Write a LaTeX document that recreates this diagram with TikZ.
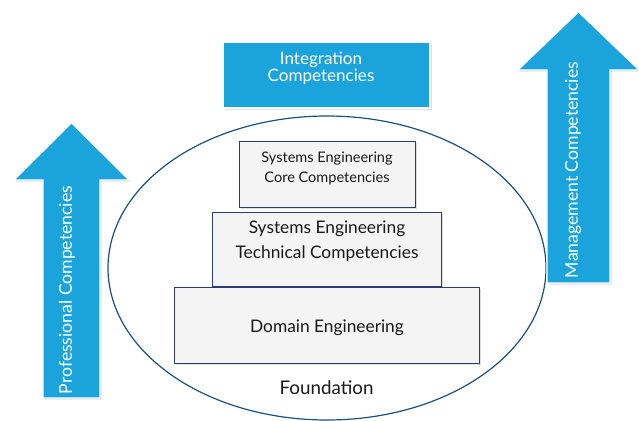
\documentclass[tikz,border=0pt]{standalone}
\usepackage{fontspec}
\setmainfont{Lato}
\usetikzlibrary{shadows}
\definecolor{skyblue}{RGB}{27,163,219}
\definecolor{navyline}{RGB}{46,58,120}
\definecolor{ringline}{RGB}{31,78,121}
\definecolor{tierfill}{RGB}{244,244,244}
\tikzset{
  softshadow/.style={drop shadow={opacity=0.25,shadow xshift=1.2pt,shadow yshift=-1.2pt}},
  tier/.style={draw=navyline,line width=0.6pt,fill=tierfill,softshadow},
  bluebox/.style={draw=white,line width=0.8pt,fill=skyblue,softshadow},
  tiertext/.style={text=black!90,align=center},
  arrowtext/.style={text=white,rotate=90,font=\fontsize{13.2}{15}\selectfont}
}
\begin{document}
\begin{tikzpicture}[x=0.75pt,y=-0.75pt]
\useasboundingbox (0,0) rectangle (639,421);
\draw[ringline,line width=0.9pt] (327,268) ellipse [x radius=219,y radius=152];

\path[bluebox] (43,398) -- (43,180) -- (14,180) -- (71.5,123) -- (129,180) -- (100,180) -- (100,398) -- cycle;
\path[bluebox] (547,283) -- (547,70) -- (518,70) -- (578.5,12) -- (639,70) -- (610,70) -- (610,283) -- cycle;
\node[arrowtext] (proftext) at (67,290) {Professional Competencies};
\node[arrowtext] (mgmttext) at (573,170) {Management Competencies};

\node[bluebox,minimum width=155.25pt,minimum height=49.5pt] (integ) at (326.5,75) {};
\node[text=white,align=center,font=\fontsize{12.8}{13}\selectfont] (integtext) at (321,68) {Integration\\Competencies};

\node[tier,minimum width=132pt,minimum height=49.5pt] (core) at (327,174) {};
\node[tiertext,font=\fontsize{10.9}{15}\selectfont] (coretext) at (327,168) {Systems Engineering\\Core Competencies};

\node[tier,minimum width=171.75pt,minimum height=55.5pt] (tech) at (326.5,249) {};
\node[tiertext,font=\fontsize{13}{18.75}\selectfont] (techtext) at (327,241.5) {Systems Engineering\\Technical Competencies};

\node[tier,minimum width=228.75pt,minimum height=57pt] (domain) at (326.5,325) {};
\node[tiertext,font=\fontsize{13}{15}\selectfont] (domaintext) at (327,328) {Domain Engineering};

\node[tiertext,font=\fontsize{14.1}{16}\selectfont] (found) at (326.5,388) {Foundation};
\end{tikzpicture}
\end{document}
